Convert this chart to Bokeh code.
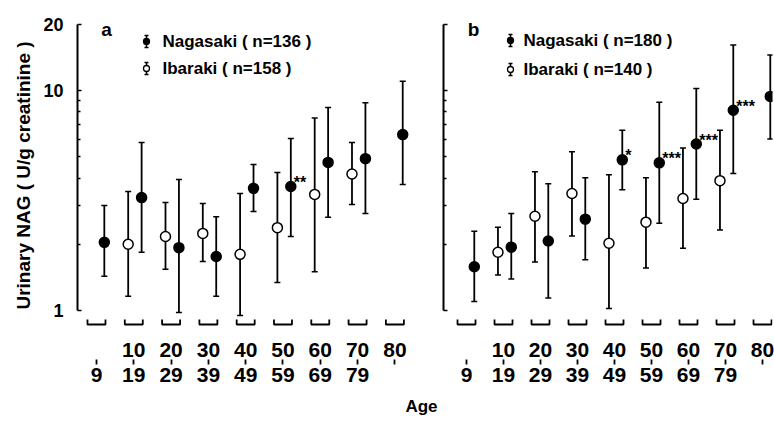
from bokeh.plotting import figure
from bokeh.models import (ColumnDataSource, Range1d, LinearScale, LinearAxis,
                          FixedTicker, Whisker, TeeHead, Label, Title)
from bokeh.layouts import row
from bokeh.embed import file_html
from bokeh.resources import INLINE
from bokeh.core.properties import value

FONT = "Liberation Sans"

# ---------------- data ----------------
groups = [0, 1, 2, 3, 4, 5, 6, 7, 8]
top_labels = ["", "10", "20", "30", "40", "50", "60", "70", "80"]
bottom_labels = ["9", "19", "29", "39", "49", "59", "69", "79", ""]
y_ticks = [1, 10, 20]
y_minor_ticks = [2, 3, 4, 5, 6, 7, 8, 9]

# panel a
a_nag_groups = [0, 1, 2, 3, 4, 5, 6, 7, 8]
a_nag_mean = [2.04, 3.26, 1.93, 1.76, 3.59, 3.66, 4.71, 4.90, 6.30]
a_nag_upper = [3.00, 5.80, 3.94, 2.67, 4.61, 6.05, 8.37, 8.80, 11.0]
a_nag_lower = [1.43, 1.84, 0.98, 1.16, 2.82, 2.17, 2.65, 2.76, 3.74]
a_nag_sig = ["", "", "", "", "", "**", "", "", ""]
a_ib_groups = [1, 2, 3, 4, 5, 6, 7]
a_ib_mean = [2.00, 2.17, 2.24, 1.80, 2.38, 3.37, 4.17]
a_ib_upper = [3.47, 3.10, 3.06, 3.40, 4.24, 7.50, 5.80]
a_ib_lower = [1.16, 1.54, 1.67, 0.95, 1.34, 1.50, 3.03]
a_legend = ["Nagasaki ( n=136 )", "Ibaraki ( n=158 )"]

# panel b
b_nag_groups = [0, 1, 2, 3, 4, 5, 6, 7, 8]
b_nag_mean = [1.58, 1.94, 2.07, 2.60, 4.84, 4.69, 5.71, 8.13, 9.40]
b_nag_upper = [2.29, 2.76, 3.77, 4.01, 6.60, 8.83, 10.2, 16.1, 14.5]
b_nag_lower = [1.10, 1.39, 1.14, 1.70, 3.54, 2.49, 3.20, 4.19, 6.02]
b_nag_sig = ["", "", "", "", "*", "***", "***", "***", ""]
b_ib_groups = [1, 2, 3, 4, 5, 6, 7]
b_ib_mean = [1.84, 2.68, 3.40, 2.02, 2.52, 3.23, 3.89]
b_ib_upper = [2.39, 4.27, 5.26, 4.14, 4.01, 5.48, 6.60]
b_ib_lower = [1.45, 1.66, 2.18, 1.02, 1.56, 1.92, 2.32]
b_legend = ["Nagasaki ( n=180 )", "Ibaraki ( n=140 )"]

NAG_OFF = 0.21
IB_OFF = -0.15
FRAME_H = 310


def make_panel(letter, nag_g, nag_m, nag_u, nag_l, nag_sig, ib_g, ib_m, ib_u, ib_l,
               legend, fw, x_start, unit_px, left_border, right_border, show_ylabels,
               legend_pos, letter_pos):
    p = figure(frame_width=fw, frame_height=FRAME_H,
               x_range=Range1d(x_start, x_start + fw / unit_px),
               y_range=Range1d(0.811, 20.8), y_axis_type="log", x_axis_type=None,
               output_backend="svg", toolbar_location=None,
               min_border_left=left_border, min_border_right=right_border,
               min_border_top=20, min_border_bottom=92)
    p.outline_line_color = None
    p.grid.grid_line_color = None
    p.background_fill_color = "white"
    p.border_fill_color = "white"

    # pixel helper ranges for layout-only decorations
    p.extra_x_ranges = {"px": Range1d(0, fw)}
    p.extra_y_ranges = {"px": Range1d(FRAME_H, 0)}
    p.extra_x_scales = {"px": LinearScale()}
    p.extra_y_scales = {"px": LinearScale()}

    # y axis
    ya = p.yaxis[0]
    ya.ticker = FixedTicker(ticks=y_ticks, minor_ticks=y_minor_ticks)
    ya.bounds = (1, 20)
    ya.axis_line_width = 2
    ya.axis_line_color = "black"
    ya.major_tick_line_color = "black"
    ya.minor_tick_line_color = "black"
    ya.major_tick_in = 4
    ya.major_tick_out = 0
    ya.minor_tick_in = 3
    ya.minor_tick_out = 0
    ya.major_tick_line_width = 1.5
    ya.minor_tick_line_width = 1.5
    ya.major_label_overrides = {t: str(t) for t in y_ticks}
    ya.major_label_text_font = FONT
    ya.major_label_text_font_style = "bold"
    ya.major_label_text_color = "black"
    if show_ylabels:
        ya.major_label_text_font_size = "18px"
        ya.major_label_standoff = 14
        ya.axis_label = "Urinary NAG ( U/g creatinine )"
        ya.axis_label_text_font = FONT
        ya.axis_label_text_font_style = "bold"
        ya.axis_label_text_font_size = "19px"
        ya.axis_label_text_color = "black"
        ya.axis_label_standoff = 6
    else:
        ya.major_label_text_font_size = "0px"
        ya.major_label_text_color = None
        ya.major_label_standoff = 0

    # x axes: two rows of labels
    ax1 = LinearAxis(ticker=FixedTicker(ticks=groups),
                     major_label_overrides={g: t for g, t in zip(groups, top_labels)},
                     axis_line_color=None, major_tick_line_color=None,
                     minor_tick_line_color=None, major_tick_in=0, major_tick_out=0,
                     major_label_standoff=12, major_label_text_font=FONT,
                     major_label_text_color="black",
                     major_label_text_font_style="bold", major_label_text_font_size="21px")
    ax2 = LinearAxis(ticker=FixedTicker(ticks=groups),
                     major_label_overrides={g: t for g, t in zip(groups, bottom_labels)},
                     axis_line_color=None, major_tick_line_color="black",
                     major_tick_line_width=1.8,
                     minor_tick_line_color=None, major_tick_in=0, major_tick_out=5,
                     major_label_standoff=3, major_label_text_font=FONT,
                     major_label_text_color="black",
                     major_label_text_font_style="bold", major_label_text_font_size="21px")
    p.add_layout(ax1, "below")
    p.add_layout(ax2, "below")

    # group brackets under the data area
    hw = 9 / unit_px
    p.multi_line(xs=[[g - hw, g - hw, g + hw, g + hw] for g in groups],
                 ys=[[299, 304, 304, 299] for g in groups],
                 y_range_name="px", line_color="black", line_width=1.8)

    # Ibaraki (open)
    src_i = ColumnDataSource(dict(x=[g + IB_OFF for g in ib_g], m=ib_m, u=ib_u, l=ib_l))
    p.add_layout(Whisker(base="x", upper="u", lower="l", source=src_i, dimension="height",
                         line_color="black", line_width=1.8,
                         upper_head=TeeHead(size=6, line_width=1.5, line_color="black"),
                         lower_head=TeeHead(size=6, line_width=1.5, line_color="black")))
    p.scatter("x", "m", source=src_i, marker="circle", size=10,
              fill_color="white", line_color="black", line_width=1.5)

    # Nagasaki (filled)
    src_n = ColumnDataSource(dict(x=[g + NAG_OFF for g in nag_g], m=nag_m, u=nag_u, l=nag_l,
                                  s=nag_sig))
    p.add_layout(Whisker(base="x", upper="u", lower="l", source=src_n, dimension="height",
                         line_color="black", line_width=1.8,
                         upper_head=TeeHead(size=6, line_width=1.5, line_color="black"),
                         lower_head=TeeHead(size=6, line_width=1.5, line_color="black")))
    p.scatter("x", "m", source=src_n, marker="circle", size=10,
              fill_color="black", line_color="black", line_width=1.5)
    p.text("x", "m", text="s", source=src_n, text_font=value(FONT),
           text_font_style="bold", text_font_size="16px", text_align="left",
           text_baseline="middle", x_offset=3, y_offset=-4, text_color="black")

    # legend (pixel coordinates inside frame)
    lx, ly1, ly2, tx = legend_pos
    lsrc = ColumnDataSource(dict(x=[lx, lx], y=[ly1, ly2], u=[ly1 - 6, ly2 - 6],
                                 l=[ly1 + 6, ly2 + 6], fill=["black", "white"],
                                 tx=[tx, tx], t=legend))
    p.add_layout(Whisker(base="x", upper="u", lower="l", source=lsrc, dimension="height",
                         x_range_name="px", y_range_name="px",
                         line_color="black", line_width=1.5,
                         upper_head=TeeHead(size=4, line_width=1.3, line_color="black"),
                         lower_head=TeeHead(size=4, line_width=1.3, line_color="black")))
    p.scatter("x", "y", source=lsrc, x_range_name="px", y_range_name="px", marker="circle",
              size=6, fill_color="fill", line_color="black", line_width=1.3)
    p.text("tx", "y", text="t", source=lsrc, x_range_name="px", y_range_name="px",
           text_font=value(FONT), text_font_style="bold", text_font_size="17px",
           text_baseline="middle", text_align="left", text_color="black")

    # panel letter
    p.add_layout(Label(x=letter_pos[0], y=letter_pos[1], x_range_name="px", y_range_name="px",
                       text=letter, text_font=FONT, text_font_style="bold",
                       text_font_size="19px", text_align="center",
                       text_baseline="alphabetic", text_color="black"))
    return p


pa = make_panel("a", a_nag_groups, a_nag_mean, a_nag_upper, a_nag_lower, a_nag_sig,
                a_ib_groups, a_ib_mean, a_ib_upper, a_ib_lower, a_legend,
                fw=350, x_start=-0.509, unit_px=37.3, left_border=77, right_border=13,
                show_ylabels=True, legend_pos=(69, 21, 48, 85), letter_pos=(29, 9))
pa.add_layout(Title(text="Age", align="right", offset=-10, standoff=20,
                    text_font=FONT, text_font_style="bold", text_font_size="17px",
                    text_color="black"), "below")

pb = make_panel("b", b_nag_groups, b_nag_mean, b_nag_upper, b_nag_lower, b_nag_sig,
                b_ib_groups, b_ib_mean, b_ib_upper, b_ib_lower, b_legend,
                fw=329, x_start=-0.622, unit_px=37.0, left_border=3, right_border=2,
                show_ylabels=False, legend_pos=(67, 20, 49, 80), letter_pos=(30, 9))

layout = row(pa, pb)
open("out.html", "w").write(file_html(layout, INLINE))
